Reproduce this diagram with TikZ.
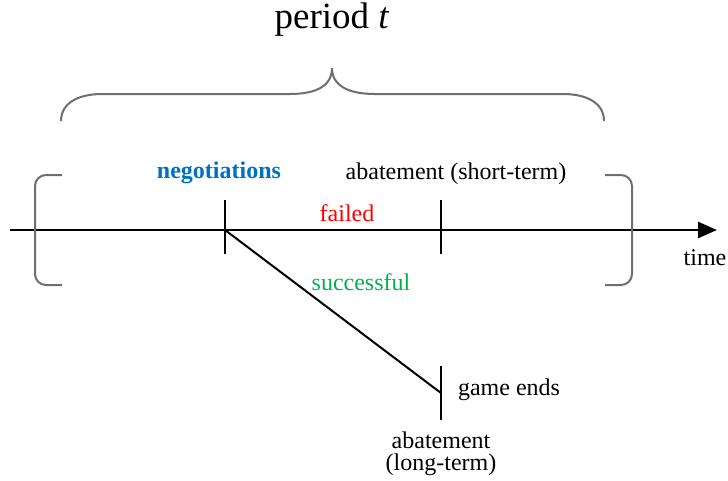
\documentclass[tikz,border=0pt]{standalone}
\usepackage{fontspec}
\setmainfont{Liberation Serif}
\usetikzlibrary{arrows.meta}
\definecolor{negblue}{RGB}{0,112,192}
\definecolor{okgreen}{RGB}{0,176,80}
\definecolor{bracegray}{RGB}{110,110,110}
\tikzset{
  axis/.style={line width=2.6pt, -{Triangle[length=19pt,width=16pt]}},
  tick/.style={line width=2pt},
  branch/.style={line width=2pt},
  bracket/.style={draw=bracegray, line width=2pt},
  lbl/.style={font=\fontsize{24}{28}\selectfont, inner sep=0pt, text=black},
}
\begin{document}
\begin{tikzpicture}[x=1pt,y=-1pt]
\useasboundingbox (0,0) rectangle (728,480);
% coordinates
\coordinate (start) at (10,230);
\coordinate (tip) at (717,230);
\coordinate (neg) at (225,230);
\coordinate (negT) at (225,200);
\coordinate (negB) at (225,254);
\coordinate (abs) at (441,230);
\coordinate (absT) at (441,200);
\coordinate (absB) at (441,254);
\coordinate (end) at (441,393);
\coordinate (endT) at (441,366);
\coordinate (endB) at (441,420);
% axis
\draw[axis] (start) -- (tip);
\draw[tick] (negT) -- (negB);
\draw[tick] (absT) -- (absB);
\draw[branch] (neg) -- (end);
\draw[tick] (endT) -- (endB);
% brackets
\draw[bracket, rounded corners=11pt] (62,175) -- (35,175) -- (35,285) -- (62,285);
\draw[bracket, rounded corners=11pt] (605,175) -- (632,175) -- (632,285) -- (605,285);
\draw[bracket] (61,121) .. controls (61,102) and (80,94) .. (102,94) -- (290,94)
  .. controls (316,94) and (332,86) .. (332,68)
  .. controls (332,86) and (349,94) .. (375,94) -- (563,94)
  .. controls (585,94) and (604,102) .. (604,121);
% labels
\node[lbl, font=\fontsize{37}{42}\selectfont] (period) at (332,20) {period \textit{t}};
\node[lbl, text=negblue, font=\fontsize{24}{28}\selectfont\bfseries] (negl) at (219,173) {negotiations};
\node[lbl] (absl) at (456,174) {abatement (short-term)};
\node[lbl, text=red] (failed) at (347,213) {failed};
\node[lbl, text=okgreen] (succ) at (361,282) {successful};
\node[lbl] (time) at (705,258) {time};
\node[lbl] (game) at (509,390) {game ends};
\node[lbl] (abl1) at (441,440) {abatement};
\node[lbl] (abl2) at (441,465) {(long-term)};
\end{tikzpicture}
\end{document}
